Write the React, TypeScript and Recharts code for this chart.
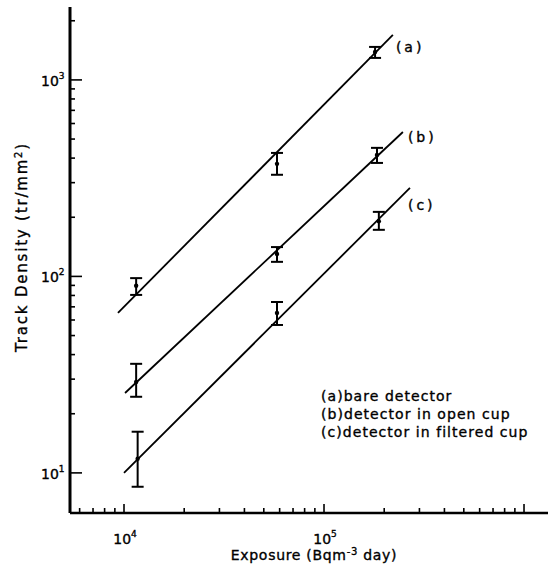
import React from "react";
import { ComposedChart, ErrorBar, Label, Legend, Line, Scatter, XAxis, YAxis } from "recharts";

// measured points (tracks/mm2) and their error limits
const A_X = [11500, 58200, 180000];
const A_Y = [89.6, 374, 1387];
const A_LO = [80.5, 329, 1294];
const A_HI = [98, 425, 1472];

const B_X = [11500, 58200, 184000];
const B_Y = [29, 130, 415];
const B_LO = [24.4, 118.6, 378];
const B_HI = [35.9, 141, 451];

const C_X = [11700, 58200, 188000];
const C_Y = [11.8, 65.2, 191];
const C_LO = [8.5, 56.6, 172.6];
const C_HI = [16.2, 74.1, 213];

// fitted lines, end points
const A_FIT_X = [9330, 221000];
const A_FIT_Y = [65.2, 1694];
const B_FIT_X = [10120, 248000];
const B_FIT_Y = [25.5, 543];
const C_FIT_X = [10000, 269000];
const C_FIT_Y = [10, 282];

const TAGS = ["(a)", "(b)", "(c)"];
const LEGEND_TEXT = ["bare detector", "detector in open cup", "detector in filtered cup"];

const X_TICKS = [
  6000, 7000, 8000, 9000, 10000, 20000, 30000, 40000, 50000, 60000, 70000, 80000, 90000,
  100000, 200000, 300000, 400000, 500000, 600000, 700000, 800000, 900000, 1000000,
];
const X_MAJOR = [10000, 100000, 1000000];
const X_EXP: Record<number, string> = { 10000: "4", 100000: "5" };

const Y_TICKS = [
  10, 20, 30, 40, 50, 60, 70, 80, 90, 100, 200, 300, 400, 500, 600, 700, 800, 900, 1000, 2000,
];
const Y_EXP: Record<number, string> = { 10: "1", 100: "2", 1000: "3" };

const FONT = "'DejaVu Sans', sans-serif";
const INK = { fill: "#000", stroke: "#000", strokeWidth: 0.35 };

function points(xs: number[], ys: number[], lo: number[], hi: number[]) {
  return xs.map((x, i) => ({ x, y: ys[i], err: [ys[i] - lo[i], hi[i] - ys[i]] }));
}

function fit(xs: number[], ys: number[]) {
  return xs.map((x, i) => ({ x, y: ys[i] }));
}

function XTick(props: any) {
  const { x, y, payload } = props;
  const v = payload.value;
  const major = X_MAJOR.includes(v);
  const exp = X_EXP[v];
  return (
    <g>
      <line x1={x} x2={x} y1={y} y2={y - (major ? 9 : 5)} stroke="#000" strokeWidth={1.6} />
      {exp && (
        <text x={x + 1} y={y + 31} textAnchor="middle" fontFamily={FONT} fontSize={14} {...INK}>
          10
          <tspan dy={-7} fontSize={9}>
            {exp}
          </tspan>
        </text>
      )}
    </g>
  );
}

function YTick(props: any) {
  const { x, y, payload } = props;
  const v = payload.value;
  const exp = Y_EXP[v];
  return (
    <g>
      <line x1={x} x2={x + (exp ? 12 : 5)} y1={y} y2={y} stroke="#000" strokeWidth={1.6} />
      {exp && (
        <text x={x - 29} y={y + 6} fontFamily={FONT} fontSize={14} {...INK}>
          10
          <tspan dy={-7} fontSize={9}>
            {exp}
          </tspan>
        </text>
      )}
    </g>
  );
}

function tag(text: string, dx: number, dy: number) {
  return (p: any) =>
    p.index === 1 ? (
      <text x={p.x + dx} y={p.y + dy} fontFamily={FONT} fontSize={14} letterSpacing={3} {...INK}>
        {text}
      </text>
    ) : (
      <g />
    );
}

const dot = (p: any) => <circle cx={p.cx} cy={p.cy} r={2.2} fill="#000" />;

function LegendBlock() {
  return (
    <div
      style={{
        fontFamily: FONT,
        fontSize: 14,
        letterSpacing: 1.05,
        lineHeight: "18px",
        color: "#000",
        whiteSpace: "nowrap",
        WebkitTextStroke: "0.35px #000",
      }}
    >
      {LEGEND_TEXT.map((t, i) => (
        <div key={t}>
          {TAGS[i]}
          {t}
        </div>
      ))}
    </div>
  );
}

export default function App() {
  return (
    <div style={{ position: "absolute", left: 0, top: 0, width: 553, height: 572, background: "#fff" }}>
      <ComposedChart width={553} height={572} margin={{ top: 7, right: 5, left: 0, bottom: 0 }}>
        <XAxis
          type="number"
          dataKey="x"
          scale="log"
          domain={[5370, 1318000]}
          allowDataOverflow
          ticks={X_TICKS}
          interval={0}
          tick={<XTick />}
          tickSize={0}
          tickMargin={0}
          tickLine={false}
          height={59}
          axisLine={{ stroke: "#000", strokeWidth: 2.5 }}
        >
          <Label
            content={(p: any) => (
              <text
                x={p.viewBox.x + p.viewBox.width / 2 + 5}
                y={p.viewBox.y + 47}
                textAnchor="middle"
                fontFamily={FONT}
                fontSize={14}
                letterSpacing={0.7}
                {...INK}
              >
                Exposure (Bqm
                <tspan dy={-5} fontSize={10}>
                  -3
                </tspan>
                <tspan dy={5}> day)</tspan>
              </text>
            )}
          />
        </XAxis>
        <YAxis
          type="number"
          dataKey="y"
          scale="log"
          domain={[6.25, 2350]}
          allowDataOverflow
          ticks={Y_TICKS}
          interval={0}
          tick={<YTick />}
          tickSize={0}
          tickMargin={0}
          tickLine={false}
          width={70}
          axisLine={{ stroke: "#000", strokeWidth: 3 }}
        >
          <Label
            content={(p: any) => (
              <text
                x={p.viewBox.x + 27}
                y={p.viewBox.y + 240}
                transform={`rotate(-90 ${p.viewBox.x + 27} ${p.viewBox.y + 240})`}
                textAnchor="middle"
                fontFamily={FONT}
                fontSize={15}
                letterSpacing={1.8}
                {...INK}
              >
                Track Density (tr/mm
                <tspan dy={-5} fontSize={10}>
                  2
                </tspan>
                <tspan dy={5}>)</tspan>
              </text>
            )}
          />
        </YAxis>

        <Line data={fit(A_FIT_X, A_FIT_Y)} dataKey="y" type="linear" stroke="#000" strokeWidth={1.8} dot={false} isAnimationActive={false} label={tag(TAGS[0], 3, 17)} />
        <Line data={fit(B_FIT_X, B_FIT_Y)} dataKey="y" type="linear" stroke="#000" strokeWidth={1.8} dot={false} isAnimationActive={false} label={tag(TAGS[1], 5, 10)} />
        <Line data={fit(C_FIT_X, C_FIT_Y)} dataKey="y" type="linear" stroke="#000" strokeWidth={1.8} dot={false} isAnimationActive={false} label={tag(TAGS[2], -2, 22)} />

        <Scatter data={points(A_X, A_Y, A_LO, A_HI)} dataKey="y" shape={dot} isAnimationActive={false}>
          <ErrorBar dataKey="err" direction="y" width={6} stroke="#000" strokeWidth={2} isAnimationActive={false} />
        </Scatter>
        <Scatter data={points(B_X, B_Y, B_LO, B_HI)} dataKey="y" shape={dot} isAnimationActive={false}>
          <ErrorBar dataKey="err" direction="y" width={6} stroke="#000" strokeWidth={2} isAnimationActive={false} />
        </Scatter>
        <Scatter data={points(C_X, C_Y, C_LO, C_HI)} dataKey="y" shape={dot} isAnimationActive={false}>
          <ErrorBar dataKey="err" direction="y" width={6} stroke="#000" strokeWidth={2} isAnimationActive={false} />
        </Scatter>

        <Legend
          layout="vertical"
          align="center"
          verticalAlign="middle"
          content={() => <LegendBlock />}
          wrapperStyle={{ position: "absolute", left: 321, top: 387, width: "auto" }}
        />
      </ComposedChart>
    </div>
  );
}
